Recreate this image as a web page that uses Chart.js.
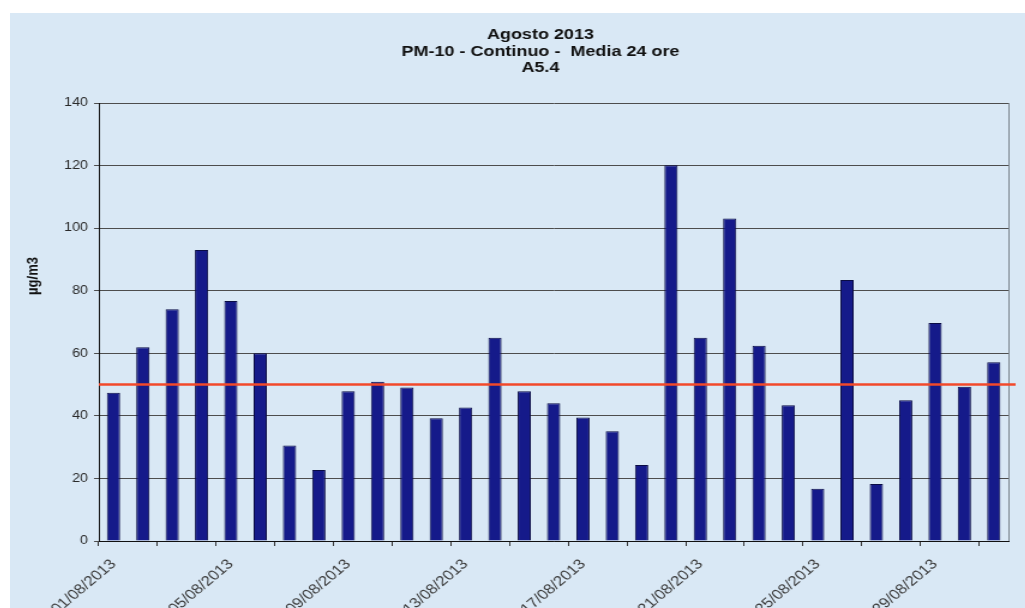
<!DOCTYPE html>
<html lang="it">
<head>
<meta charset="UTF-8">
<title>PM-10 Agosto 2013 - A5.4</title>
<script src="https://cdn.jsdelivr.net/npm/chart.js"></script>
<style>
  html, body { margin: 0; padding: 0; background: #fff; overflow: hidden; }
  /* the sheet is drawn narrow and widened, like the exported spreadsheet picture */
  #wrap { position: absolute; left: 10px; top: 13px; width: 846px; height: 640px;
          transform: scaleX(1.2); transform-origin: 0 0; }
</style>
</head>
<body>
<div id="wrap"><canvas id="pmChart" width="846" height="640"></canvas></div>
<script>
// daily PM-10 averages (µg/m3), station A5.4
const days = [
  '01/08/2013', '02/08/2013', '03/08/2013', '04/08/2013', '05/08/2013', '06/08/2013',
  '07/08/2013', '08/08/2013', '09/08/2013', '10/08/2013', '11/08/2013', '12/08/2013',
  '13/08/2013', '14/08/2013', '15/08/2013', '16/08/2013', '17/08/2013', '18/08/2013',
  '19/08/2013', '20/08/2013', '21/08/2013', '22/08/2013', '23/08/2013', '24/08/2013',
  '25/08/2013', '26/08/2013', '27/08/2013', '28/08/2013', '29/08/2013', '30/08/2013',
  '31/08/2013'
];
const pm10 = [
  47.4, 61.9, 74.1, 93.0, 76.7, 60.0, 30.5, 22.7, 47.9, 50.9, 49.1, 39.2,
  42.7, 65.0, 47.9, 44.0, 39.5, 35.1, 24.3, 120.1, 65.0, 103.1, 62.4, 43.4,
  16.7, 83.4, 18.2, 45.0, 69.7, 49.3, 57.1
];
// dates written under the axis
const shownDates = [
  '01/08/2013', '05/08/2013', '09/08/2013', '13/08/2013',
  '17/08/2013', '21/08/2013', '25/08/2013', '29/08/2013'
];
const yMin = 0, yMax = 140, yStep = 20;
const limitValue = 50;   // daily limit value
const titleLines = ['Agosto 2013', 'PM-10 - Continuo -  Media 24 ore', 'A5.4'];
const yTitle = 'µg/m3';

const FONT = '"Liberation Sans", Arial, Helvetica, sans-serif';
Chart.defaults.font.family = FONT;

const sheet = {
  id: 'sheet',
  beforeDraw(chart) {
    const { ctx, width, height } = chart;
    ctx.save();
    ctx.fillStyle = '#d9e8f5';
    ctx.fillRect(0, 0, width, height);
    ctx.restore();
  },
  beforeDatasetsDraw(chart) {
    // grey frame line on the right side of the plot
    const { ctx, chartArea: a } = chart;
    ctx.save();
    ctx.strokeStyle = '#7d8790';
    ctx.lineWidth = 1;
    ctx.beginPath();
    ctx.moveTo(Math.round(a.right) + 0.5, a.top);
    ctx.lineTo(Math.round(a.right) + 0.5, a.bottom);
    ctx.stroke();
    ctx.restore();
  },
  afterDatasetsDraw(chart) {
    // limit line
    const { ctx, chartArea: a, scales: { y } } = chart;
    const py = y.getPixelForValue(limitValue);
    ctx.save();
    ctx.strokeStyle = '#f2492a';
    ctx.lineWidth = 2.5;
    ctx.beginPath();
    ctx.moveTo(a.left, py);
    ctx.lineTo(a.right + 6, py);
    ctx.stroke();
    ctx.restore();
  },
  afterDraw(chart) {
    const { ctx } = chart;
    ctx.save();
    ctx.fillStyle = '#111';
    ctx.font = 'bold 15px ' + FONT;
    ctx.textAlign = 'center';
    ctx.textBaseline = 'middle';
    titleLines.forEach((t, i) => ctx.fillText(t, 442, 22 + i * 16.5));

    ctx.translate(19, 263);
    ctx.rotate(-Math.PI / 2);
    ctx.font = 'bold 13px ' + FONT;
    ctx.fillText(yTitle, 0, 0);
    ctx.restore();
  }
};

new Chart(document.getElementById('pmChart'), {
  type: 'bar',
  data: {
    labels: days,
    datasets: [{
      label: 'PM-10',
      data: pm10,
      backgroundColor: '#151a8a',
      borderColor: '#0a0c45',
      borderWidth: 1,
      barPercentage: 0.45,
      categoryPercentage: 1
    }]
  },
  options: {
    responsive: false,
    animation: false,
    layout: { padding: { top: 90, right: 14, left: 0, bottom: 0 } },
    plugins: {
      legend: { display: false },
      tooltip: { enabled: false },
      title: { display: false }
    },
    scales: {
      x: {
        grid: {
          offset: true,
          drawOnChartArea: false,
          tickLength: 5,
          color: c => (c.index % 2 === 0 ? '#333' : 'rgba(0,0,0,0)')
        },
        border: { color: '#111', width: 1 },
        ticks: {
          autoSkip: false,
          minRotation: 45,
          maxRotation: 45,
          padding: 10,
          color: '#3a3a3a',
          font: { size: 14 },
          callback(v, i) {
            const d = days[i];
            return shownDates.includes(d) ? d : '';
          }
        },
        afterFit(s) { s.height = 112; }
      },
      y: {
        min: yMin,
        max: yMax,
        ticks: { stepSize: yStep, padding: 5, color: '#2a2a2a', font: { size: 12 } },
        grid: { color: '#4d4d4d', lineWidth: 1, tickLength: 4 },
        border: { color: '#111', width: 1 },
        afterFit(s) { s.width = 74; }
      }
    }
  },
  plugins: [sheet]
});
</script>
</body>
</html>
